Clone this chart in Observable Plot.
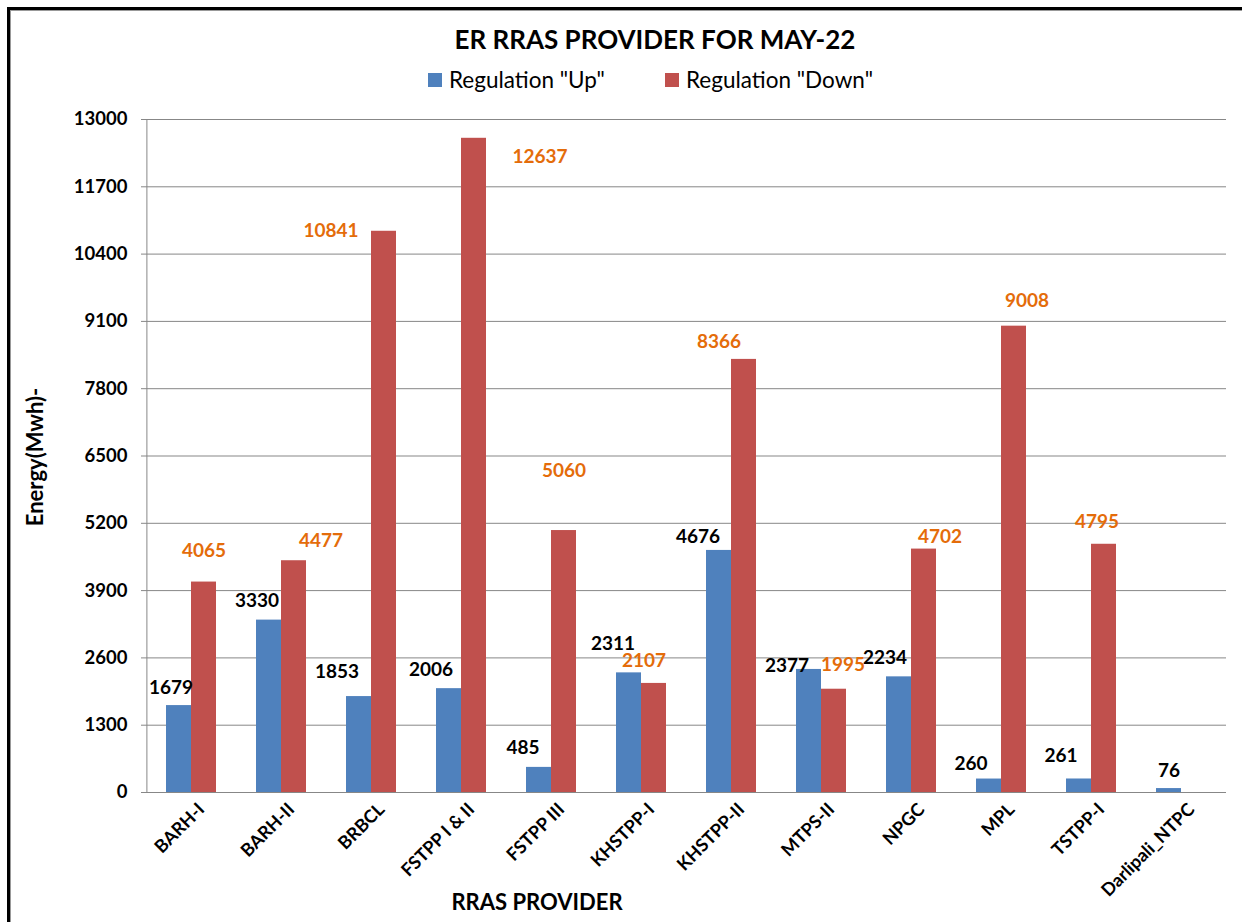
<!DOCTYPE html>
<html>
<head>
<meta charset="utf-8">
<script src="https://cdn.jsdelivr.net/npm/d3@7"></script>
<script src="https://cdn.jsdelivr.net/npm/@observablehq/plot@0.6"></script>
<style>
  html, body { margin: 0; padding: 0; background: #fff; }
  #wrap { position: relative; width: 1242px; height: 922px; overflow: hidden; font-family: Lato, "Open Sans", sans-serif; }
  #border { position: absolute; left: 7px; top: 7px; right: -10px; bottom: -10px; border-left: 3px solid #000; border-top: 3px solid #000; box-shadow: inset 1px 1px 0 #999; }
  #chart { position: absolute; left: 0; top: 0; }
  #title { position: absolute; left: 0; width: 1310px; top: 23px; text-align: center; font-weight: 700; font-size: 26px; color: #000; }
  .item { position: absolute; top: 66px; display: flex; align-items: center; font-size: 22.5px; color: #000; white-space: nowrap; }
  .sw { width: 14px; height: 14px; margin-right: 7px; }
  #ytitle { position: absolute; left: 34px; top: 457px; transform: translate(-50%, -50%) rotate(-90deg); font-weight: 700; font-size: 22px; white-space: nowrap; }
  #xtitle { position: absolute; left: 537px; top: 901px; transform: translate(-50%, -50%); font-weight: 700; font-size: 22px; white-space: nowrap; }
</style>
</head>
<body>
<div id="wrap">
  <div id="border"></div>
  <div id="chart"></div>
  <div id="title"></div>
  <div id="ytitle"></div>
  <div id="xtitle"></div>
</div>
<script>
const categories = ["BARH-I", "BARH-II", "BRBCL", "FSTPP I & II", "FSTPP III", "KHSTPP-I", "KHSTPP-II", "MTPS-II", "NPGC", "MPL", "TSTPP-I", "Darlipali_NTPC"];
const upValues = [1679, 3330, 1853, 2006, 485, 2311, 4676, 2377, 2234, 260, 261, 76];
const downValues = [4065, 4477, 10841, 12637, 5060, 2107, 8366, 1995, 4702, 9008, 4795, null];
const seriesNames = ['Regulation "Up"', 'Regulation "Down"'];
const yTicks = [0, 1300, 2600, 3900, 5200, 6500, 7800, 9100, 10400, 11700, 13000];
const titleText = "ER RRAS PROVIDER FOR MAY-22";
const yTitle = "Energy(Mwh)-";
const xTitle = "RRAS PROVIDER";

// styles (label nudges, as placed by hand in the original chart)
const seriesColors = ["#4F81BD", "#C0504D"];
const labelColors = ["#000000", "#E46C0A"];
const upLabelDx = [-8, -12, -22, -18, -16, -16, -21, -22, -14, -18, -18, 0];
const upLabelDy = [-18, -19, -25, -19, -19, -29, -14, -4, -19, -15, -23, -18];
const downLabelDx = [0, 27, -53, 66, 0, -10, -25, 9, 16, 13, -7, 0];
const downLabelDy = [-31, -20, 0, 19, -60, -23, -17, -24, -12, -25, -22, 0];

const rows = [];
categories.forEach((c, i) => {
  rows.push({cat: c, i, series: seriesNames[0], value: upValues[i]});
  if (downValues[i] != null) rows.push({cat: c, i, series: seriesNames[1], value: downValues[i]});
});
const upRows = rows.filter(d => d.series === seriesNames[0]);
const downRows = rows.filter(d => d.series === seriesNames[1]);

const font = "Lato, 'Open Sans', sans-serif";
const gridColor = "#878787";

const labelMarks = [];
upRows.forEach(d => labelMarks.push(Plot.text([d], {fx: "cat", x: "series", y: "value", text: r => String(r.value), dx: upLabelDx[d.i], dy: upLabelDy[d.i], fill: labelColors[0], fontSize: 19, fontWeight: 700})));
downRows.forEach(d => labelMarks.push(Plot.text([d], {fx: "cat", x: "series", y: "value", text: r => String(r.value), dx: downLabelDx[d.i], dy: downLabelDy[d.i], fill: labelColors[1], fontSize: 19, fontWeight: 700})));

const chart = Plot.plot({
  width: 1242,
  height: 922,
  marginLeft: 145,
  marginRight: 15,
  marginTop: 119,
  marginBottom: 130,
  style: {fontFamily: font, background: "transparent", overflow: "visible"},
  fx: {domain: categories, padding: 0, label: null, axis: null},
  x: {domain: seriesNames, paddingInner: 0, paddingOuter: 0.735, axis: null},
  y: {domain: [0, 13000], label: null, axis: null},
  color: {domain: seriesNames, range: seriesColors},
  marks: [
    Plot.gridY(yTicks, {stroke: gridColor, strokeOpacity: 1, strokeWidth: 1}),
    Plot.axisY(yTicks, {tickSize: 5, tickPadding: 14, stroke: gridColor, fontSize: 18.5, fontWeight: 700, fill: "#000", tickFormat: d => String(d), label: null}),
    Plot.ruleX([categories[0]], {fx: d => d, x: () => seriesNames[0], dx: -32.1, y1: 0, y2: 13000, stroke: gridColor}),
    Plot.ruleY([0], {stroke: gridColor}),
    Plot.barY(rows, {fx: "cat", x: "series", y: "value", fill: "series"}),
    ...labelMarks,
    Plot.axisFx({anchor: "bottom", tickRotate: -45, tickSize: 0, tickPadding: 14, dx: 10, fontSize: 18, fontWeight: 700, fill: "#000", label: null})
  ]
});
document.getElementById("chart").appendChild(chart);

document.getElementById("title").textContent = titleText;
document.getElementById("ytitle").textContent = yTitle;
document.getElementById("xtitle").textContent = xTitle;
const wrap = document.getElementById("wrap");
const legendLefts = [428, 665];
seriesNames.forEach((s, i) => {
  const item = document.createElement("div");
  item.className = "item";
  item.style.left = legendLefts[i] + "px";
  const sw = document.createElement("div");
  sw.className = "sw";
  sw.style.background = seriesColors[i];
  const t = document.createElement("span");
  t.textContent = s;
  item.appendChild(sw);
  item.appendChild(t);
  wrap.appendChild(item);
});
</script>
</body>
</html>
